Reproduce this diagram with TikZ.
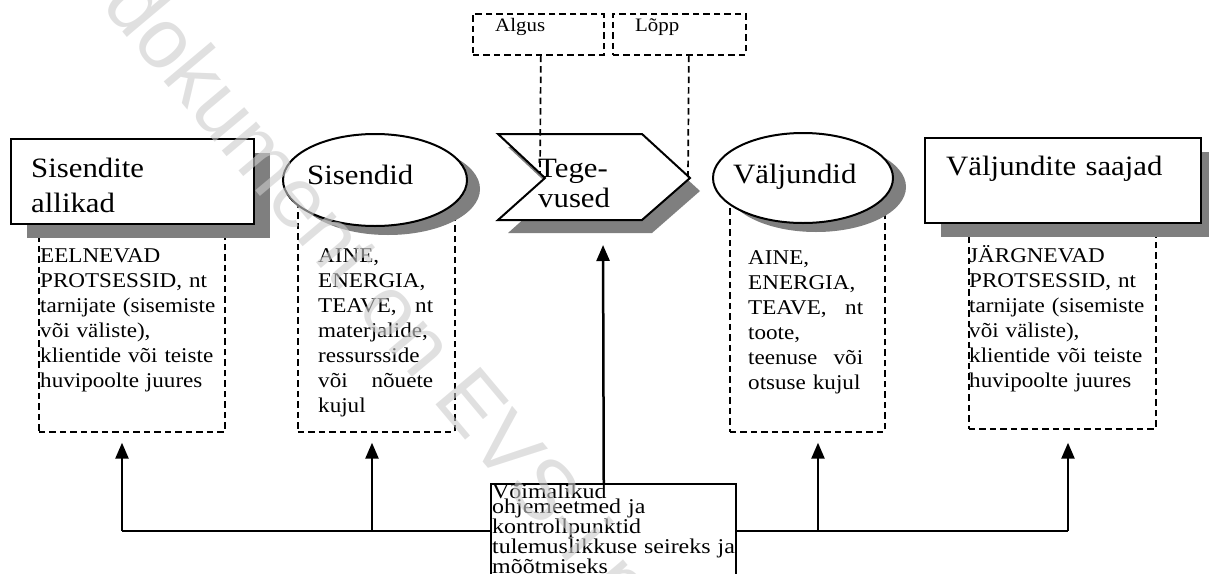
\documentclass[tikz,border=0pt]{standalone}
\usepackage{fontspec}
\setmainfont{Liberation Serif}[FakeStretch=1.1]
\newfontfamily\boxfont{Liberation Serif}[FakeStretch=1.14]
\newfontfamily\wmfont{Liberation Sans}
\usetikzlibrary{arrows.meta,shapes.geometric,shadows}
\definecolor{shadowgray}{HTML}{7F7F7F}
\definecolor{wmgray}{gray}{0.8}
\hyphenpenalty=10000
\exhyphenpenalty=10000
\begin{document}
\begin{tikzpicture}[x=1pt,y=-1pt,
  solidbox/.style={draw=black, line width=2.2pt, fill=white, inner sep=0pt},
  rectshadow/.style={drop shadow={shadow xshift=16pt, shadow yshift=-14pt, fill=shadowgray, opacity=1}},
  ellshadow/.style={drop shadow={shadow xshift=13pt, shadow yshift=-9pt, fill=shadowgray, opacity=1}},
  dashbox/.style={draw=black, line width=1.7pt, dash pattern=on 6.5pt off 4pt, inner sep=0pt, anchor=north west},
  dashline/.style={draw=black, line width=1.7pt, dash pattern=on 6.5pt off 4pt},
  title/.style={font=\fontsize{28}{35}\selectfont, inner sep=0pt, anchor=base west, align=left, text width=260pt},
  body/.style={font=\fontsize{21}{25}\selectfont, inner sep=0pt, anchor=base west, align=left},
  small/.style={font=\fontsize{19}{23}\selectfont, inner sep=0pt, anchor=base west},
  arr/.style={line width=2.5pt, -{Triangle[length=16pt,width=13pt]}},
]
\useasboundingbox (0,0) rectangle (1209,573);

% dashed text boxes (drawn first, partly hidden by shapes)
\node[dashbox, minimum width=186pt, minimum height=201pt] (d1) at (38,230) {};
\node[dashbox, minimum width=157pt, minimum height=231pt] (d2) at (297,200) {};
\node[dashbox, minimum width=155pt, minimum height=235pt] (d4) at (729,196) {};
\node[dashbox, minimum width=187pt, minimum height=203pt] (d5) at (968,225) {};
\node[dashbox, minimum width=131pt, minimum height=41pt] (algus) at (472,13) {};
\node[dashbox, minimum width=133pt, minimum height=41pt] (lopp) at (612,13) {};

% main shapes
\node[solidbox, rectshadow, anchor=north west, minimum width=243pt, minimum height=85pt] (b1) at (10,138) {};
\node[solidbox, ellshadow, ellipse, line width=2pt, minimum width=184pt, minimum height=92pt] (e1) at (375,180) {};
\fill[shadowgray] (508,147) -- (652,147) -- (700,191) -- (652,233) -- (508,233) -- (555,191) -- cycle;
\draw[solidbox, line width=2pt] (498,134) -- (642,134) -- (690,178) -- (642,220) -- (498,220) -- (545,178) -- cycle;
\coordinate (chevT) at (540,173);
\coordinate (chevtip) at (688,177);
\coordinate (chevbot) at (603,233);
\node[solidbox, ellshadow, ellipse, line width=2pt, minimum width=180pt, minimum height=90pt] (e2) at (803,178) {};
\node[solidbox, rectshadow, anchor=north west, minimum width=276pt, minimum height=85pt] (b5) at (924,137) {};

% dashed connectors from Algus / Lõpp
\draw[dashline] ([xshift=2.5pt]algus.south) -- (chevT);
\draw[dashline] ([xshift=9.5pt]lopp.south) -- (chevtip);

% titles
\node[title] (t1) at (31,177) {Sisendite\\allikad};
\node[title] (t2) at (307,184) {Sisendid};
\node[title, font=\fontsize{28}{30}\selectfont] (t3) at (538,177) {Tege-\\vused};
\node[title] (t4) at (733,183) {Väljundid};
\node[title] (t5) at (946,175) {Väljundite saajad};
\node[small] (talgus) at (495,31) {Algus};
\node[small] (tlopp) at (635,31) {Lõpp};

% body texts
\node[body, text width=200pt] (x1) at (40,262) {EELNEVAD\\PROTSESSID, nt\\tarnijate (sisemiste\\või väliste),\\klientide või teiste\\huvipoolte juures};
\node[body, text width=115pt] (x2) at (318,262) {AINE,\\ENERGIA,\\TEAVE,\hfill nt\\materjalide,\\ressursside\\või\hfill nõuete\\kujul};
\node[body, text width=115pt] (x4) at (748,264) {AINE,\\ENERGIA,\\TEAVE,\hfill nt\\toote,\\teenuse\hfill või\\otsuse kujul};
\node[body, text width=200pt] (x5) at (969,262) {JÄRGNEVAD\\PROTSESSID, nt\\tarnijate (sisemiste\\või väliste),\\klientide või teiste\\huvipoolte juures};

% control bus and arrows
\coordinate (busL) at (122,531);
\coordinate (bus2) at (372,531);
\coordinate (bus4) at (818,531);
\coordinate (busR) at (1068,531);
\draw[line width=2.5pt] (busL) -- (busR);
\draw[arr, shorten >=10pt] (busL) -- (busL |- d1.south);
\draw[arr, shorten >=10pt] (bus2) -- (bus2 |- d2.south);
\draw[arr, shorten >=10pt] (bus4) -- (bus4 |- d4.south);
\draw[arr, shorten >=13pt] (busR) -- (busR |- d5.south);

\node[draw=black, line width=1.5pt, fill=white, anchor=north west, minimum width=245pt, minimum height=110pt, inner sep=0pt] (ctrl) at (490,483) {};
\draw[arr, shorten >=12pt] ([xshift=-9.5pt]ctrl.north) -- (chevbot);
\node[font=\boxfont\fontsize{21}{15.5}\selectfont, inner sep=0pt, anchor=base west, align=left, text width=245pt] (tctrl) at (492,498) {Võimalikud\\ohjemeetmed ja\\kontrollpunktid\\tulemuslikkuse seireks ja\\mõõtmiseks};

% watermark
\node[font=\wmfont\fontsize{85}{85}\selectfont, text=wmgray, text opacity=0.6, rotate=-50, anchor=base west, inner sep=0pt] (wm) at (100,5) {dokument on EVS-i poolt loodud eelvaade};
\end{tikzpicture}
\end{document}
